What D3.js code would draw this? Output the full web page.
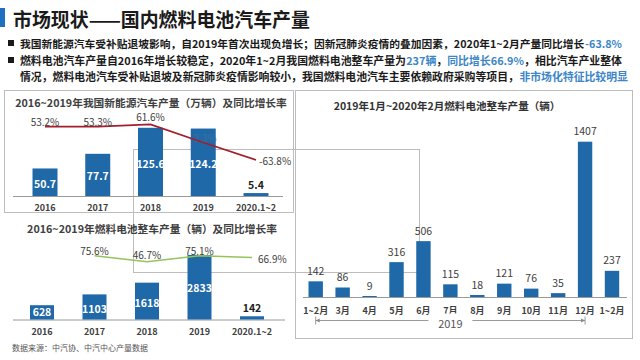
<!DOCTYPE html>
<html><head><meta charset="utf-8">
<script src="https://cdn.jsdelivr.net/npm/d3@7"></script>
<style>
html,body{margin:0;padding:0;background:#fff;}
svg{display:block;font-family:"Noto Sans CJK SC","Noto Sans",sans-serif;}
</style></head><body>
<svg id="c" width="640" height="360"></svg>
<script>
// ---- data ----
const nevYears = ["2016","2017","2018","2019","2020.1~2"];
const nevOutput = [50.7, 77.7, 125.6, 124.2, 5.4];
const nevGrowth = [53.2, 53.3, 61.6, -2.3, -63.8];
const fcvYears = ["2016","2017","2018","2019","2020.1~2"];
const fcvOutput = [628, 1103, 1618, 2833, 142];
const fcvGrowthYears = ["2017","2018","2019","2020.1~2"];
const fcvGrowth = [75.6, 46.7, 75.1, 66.9];
const months = ["1~2月","3月","4月","5月","6月","7月","8月","9月","10月","11月","12月","1~2月"];
const monthOutput = [142, 86, 9, 316, 506, 115, 18, 121, 76, 35, 1407, 237];

const BAR = "#1f69a9", DARK = "#3a3a3a", BLUE = "#3d86c6";
const svg = d3.select("#c");

function txt(g, x, y, s, o) {
  o = o || {};
  const t = g.append("text").attr("x", x).attr("y", y).text(s)
    .attr("font-size", o.size || 10).attr("font-weight", o.weight || "normal")
    .attr("fill", o.fill || DARK).attr("text-anchor", o.anchor || "start")
    .attr("dominant-baseline", "central");
  if (o.len) {
    const w = t.node().getComputedTextLength();
    t.attr("font-size", (o.size || 10) * o.len / w);
  }
  return t;
}

// ---- header ----
svg.append("rect").attr("x", 0).attr("y", 8).attr("width", 5).attr("height", 19).attr("fill", "#1f6fc0");
txt(svg, 13, 18.5, "市场现状——国内燃料电池汽车产量", {size: 19, weight: "bold", fill: "#1a1a1a", len: 297});

const bullets = [
  {y: 43, bullet: true, len: 602, parts: [["我国新能源汽车受补贴退坡影响，自2019年首次出现负增长；因新冠肺炎疫情的叠加因素，2020年1~2月产量同比增长", false], ["-63.8%", true]]},
  {y: 60, bullet: true, len: 602, parts: [["燃料电池汽车产量自2016年增长较稳定，2020年1~2月我国燃料电池整车产量为", false], ["237辆", true], ["，", false], ["同比增长66.9%", true], ["，相比汽车产业整体", false]]},
  {y: 76, bullet: false, len: 608, parts: [["情况，燃料电池汽车受补贴退坡及新冠肺炎疫情影响较小，我国燃料电池汽车主要依赖政府采购等项目，", false], ["非市场化特征比较明显", true]]}
];
bullets.forEach(b => {
  if (b.bullet) svg.append("rect").attr("x", 8).attr("y", b.y - 3).attr("width", 6).attr("height", 6).attr("fill", "#1a1a1a");
  const nodes = b.parts.map(p => txt(svg, 0, b.y, p[0], {size: 11, weight: "bold", fill: p[1] ? BLUE : "#1a1a1a"}));
  const widths = nodes.map(n => n.node().getComputedTextLength());
  const k = b.len / d3.sum(widths);
  let xx = 20;
  nodes.forEach((n, i) => {
    n.attr("x", xx).attr("font-size", 11 * k);
    xx += widths[i] * k;
  });
});

// ---- frames ----
const frames = [[4, 90, 289, 122], [295, 90, 337, 248], [133, 149, 286, 123]];
frames.forEach(f => svg.append("rect").attr("x", f[0] + 0.5).attr("y", f[1] + 0.5)
  .attr("width", f[2]).attr("height", f[3]).attr("fill", "none").attr("stroke", "#bdbdbd").attr("stroke-width", 1));

// ---- chart 1: NEV output ----
{
  const g = svg.append("g");
  const x = d3.scalePoint().domain(nevYears).range([45, 256]);
  const y = d3.scaleLinear().domain([0, 130]).range([196, 125.4]);
  const yl = d3.scaleLinear().domain([-63.8, 61.6]).range([160, 124.3]);
  txt(g, 151, 102, "2016~2019年我国新能源汽车产量（万辆）及同比增长率", {size: 12, weight: "bold", fill: "#404040", anchor: "middle", len: 272});
  g.append("line").attr("x1", 13).attr("x2", 283).attr("y1", 196.5).attr("y2", 196.5).attr("stroke", "#9a9a9a");
  g.selectAll("rect.b").data(nevOutput).join("rect").attr("class", "b")
    .attr("x", (d, i) => x(nevYears[i]) - 12.5).attr("width", 25)
    .attr("y", d => y(d)).attr("height", d => y(0) - y(d)).attr("fill", BAR);
  // faint label drawn over the 2019 bar
  txt(g, x("2019"), 137, "-2.3%", {size: 10, fill: "#3f6f9c", anchor: "middle"});
  nevOutput.forEach((d, i) => {
    const inside = d > 20;
    const yy = inside ? (i < 2 ? y(0) - (y(0) - y(d)) * (i === 0 ? 0.45 : 0.48) : 163) : y(d) - 9;
    txt(g, x(nevYears[i]), yy, d.toFixed(1), {size: 10.5, weight: "bold", fill: inside ? "#fff" : "#222", anchor: "middle"});
  });
  nevYears.forEach(c => txt(g, x(c), 207, c, {size: 9, weight: "bold", fill: "#404040", anchor: "middle"}));
  const line = d3.line().x((d, i) => x(nevYears[i])).y(d => yl(d));
  g.append("path").datum(nevGrowth).attr("d", line).attr("fill", "none").attr("stroke", "#a31f2e").attr("stroke-width", 1.8);
  [0, 1].forEach(i => txt(g, x(nevYears[i]), yl(nevGrowth[i]) - 5, nevGrowth[i].toFixed(1) + "%", {size: 10, fill: "#404040", anchor: "middle"}));
  txt(g, x(nevYears[2]), 116, nevGrowth[2].toFixed(1) + "%", {size: 10, fill: "#404040", anchor: "middle"});
  txt(g, x(nevYears[4]) + 3, yl(nevGrowth[4]), nevGrowth[4].toFixed(1) + "%", {size: 10, fill: "#404040"});
}

// ---- chart 2: FCV yearly ----
{
  const g = svg.append("g");
  const x = d3.scalePoint().domain(fcvYears).range([42, 252]);
  const y = d3.scaleLinear().domain([0, 2833]).range([319.5, 255]);
  const yl = d3.scaleLinear().domain([46.7, 75.6]).range([261.7, 255.7]);
  txt(g, 152, 228, "2016~2019年燃料电池整车产量（辆）及同比增长率", {size: 12, weight: "bold", fill: "#404040", anchor: "middle", len: 250});
  g.append("line").attr("x1", 13).attr("x2", 285).attr("y1", 320).attr("y2", 320).attr("stroke", "#9a9a9a");
  g.selectAll("rect.b").data(fcvOutput).join("rect").attr("class", "b")
    .attr("x", (d, i) => x(fcvYears[i]) - 12).attr("width", 24)
    .attr("y", d => y(d)).attr("height", d => y(0) - y(d)).attr("fill", BAR);
  const lblY = [311.5, 308, 302, 287.5];
  fcvOutput.forEach((d, i) => {
    const inside = d > 500;
    txt(g, x(fcvYears[i]), inside ? lblY[i] : y(d) - 9, String(d), {size: 10.5, weight: "bold", fill: inside ? "#fff" : "#222", anchor: "middle"});
  });
  fcvYears.forEach(c => txt(g, x(c), 331, c, {size: 9, weight: "bold", fill: "#404040", anchor: "middle"}));
  const line = d3.line().x((d, i) => x(fcvGrowthYears[i])).y(d => yl(d));
  g.append("path").datum(fcvGrowth).attr("d", line).attr("fill", "none").attr("stroke", "#93c55a").attr("stroke-width", 1.6);
  [0, 1, 2].forEach(i => txt(g, x(fcvGrowthYears[i]), i === 1 ? 254 : 250.5, fcvGrowth[i].toFixed(1) + "%", {size: 10, fill: "#404040", anchor: "middle"}));
  txt(g, x(fcvGrowthYears[3]) + 6, yl(fcvGrowth[3]) + 0.5, fcvGrowth[3].toFixed(1) + "%", {size: 10, fill: "#404040"});
  txt(g, 12, 347, "数据来源：中汽协、中汽中心产量数据", {size: 8, fill: "#555"});
}

// ---- chart 3: monthly ----
{
  const g = svg.append("g");
  const idx = months.map((m, i) => i);
  const x = d3.scalePoint().domain(idx).range([315.7, 612]);
  const y = d3.scaleLinear().domain([0, 1407]).range([297, 141.7]);
  txt(g, 447, 105, "2019年1月~2020年2月燃料电池整车产量（辆）", {size: 11.5, weight: "bold", fill: "#333", anchor: "middle", len: 227});
  g.append("line").attr("x1", 303).attr("x2", 627).attr("y1", 297.5).attr("y2", 297.5).attr("stroke", "#9a9a9a");
  g.selectAll("rect.b").data(monthOutput).join("rect").attr("class", "b")
    .attr("x", (d, i) => x(i) - 7.2).attr("width", 14.4)
    .attr("y", d => y(d)).attr("height", d => y(0) - y(d)).attr("fill", BAR);
  monthOutput.forEach((d, i) => txt(g, x(i), y(d) - 11, String(d), {size: 10.5, fill: "#404040", anchor: "middle"}));
  months.forEach((m, i) => txt(g, x(i), 310, m, {size: 9, weight: "bold", fill: "#404040", anchor: "middle"}));
  // 2019 bracket
  const bx1 = x(0), bx2 = x(10), by = 320.5;
  g.append("line").attr("x1", bx1).attr("x2", bx2).attr("y1", by).attr("y2", by).attr("stroke", "#9a9a9a");
  [bx1, bx2].forEach(v => g.append("line").attr("x1", v).attr("x2", v).attr("y1", by - 4).attr("y2", by + 4).attr("stroke", "#9a9a9a"));
  g.append("path").attr("d", `M${bx1},${by} l4,-2 v4 z M${bx2},${by} l-4,-2 v4 z`).attr("fill", "#888");
  const cx = (bx1 + bx2) / 2;
  g.append("rect").attr("x", cx - 22).attr("y", by - 7).attr("width", 44).attr("height", 14).attr("fill", "#fff");
  txt(g, cx, by + 2.5, "2019", {size: 11, fill: "#555", anchor: "middle"});
}
</script>
</body></html>
